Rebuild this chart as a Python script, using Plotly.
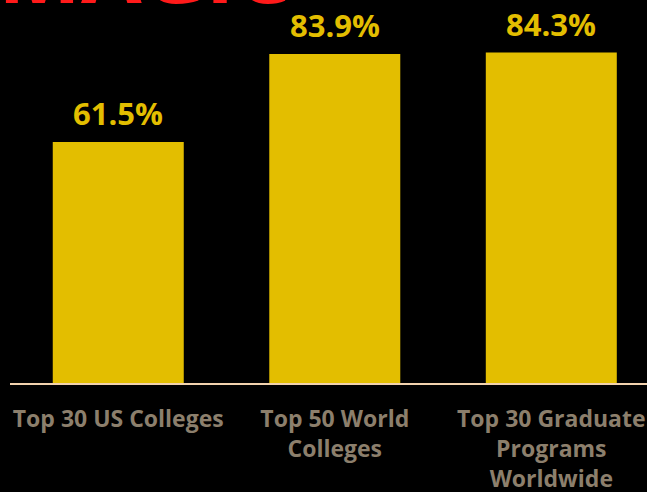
import plotly.graph_objects as go

categories = ["Top 30 US Colleges", "Top 50 World<br>Colleges", "Top 30 Graduate<br>Programs<br>Worldwide"]
values = [61.5, 83.9, 84.3]
value_labels = ["61.5%", "83.9%", "84.3%"]
title_text = "MAGIC"

GOLD = "#E3BE00"
FONT = "Open Sans"
TICK_FONT = "Open Sans"

fig = go.Figure()
fig.add_trace(go.Bar(
    x=list(range(len(categories))),
    y=values,
    marker=dict(color=GOLD, line=dict(width=0)),
    width=0.605,
    hoverinfo="skip",
))

for i, (v, lab) in enumerate(zip(values, value_labels)):
    fig.add_annotation(
        x=i, y=v, text=lab, showarrow=False,
        yanchor="bottom", yshift=6,
        font=dict(family=FONT, size=31, color=GOLD, weight="bold"),
    )

fig.add_annotation(
    xref="paper", yref="paper", x=0, y=1, xanchor="left", yanchor="bottom",
    xshift=-14, yshift=-30.5,
    text=title_text, showarrow=False,
    font=dict(family=FONT, size=88, color="#FF1A1A", weight="bold"),
)

fig.update_layout(
    width=647, height=492,
    paper_bgcolor="black", plot_bgcolor="black",
    margin=dict(l=10, r=0, t=0, b=109),
    showlegend=False,
    xaxis=dict(
        range=[-0.5, 2.442],
        tickmode="array",
        tickvals=list(range(len(categories))),
        ticktext=categories,
        automargin=False,
        showgrid=False, zeroline=False,
        showline=True, linecolor="#F2D2AE", linewidth=1.5,
        ticks="outside", ticklen=15, tickcolor="rgba(0,0,0,0)",
        tickfont=dict(family=TICK_FONT, size=23, color="#8C7F6C", weight="bold"),
        tickangle=0,
    ),
    yaxis=dict(
        range=[0, 97.7],
        visible=False, showgrid=False, zeroline=False,
    ),
)

fig.write_html(
    "out.html",
    config={"displayModeBar": False},
    post_script="document.body.style.margin='0';document.body.style.background='black';",
)
